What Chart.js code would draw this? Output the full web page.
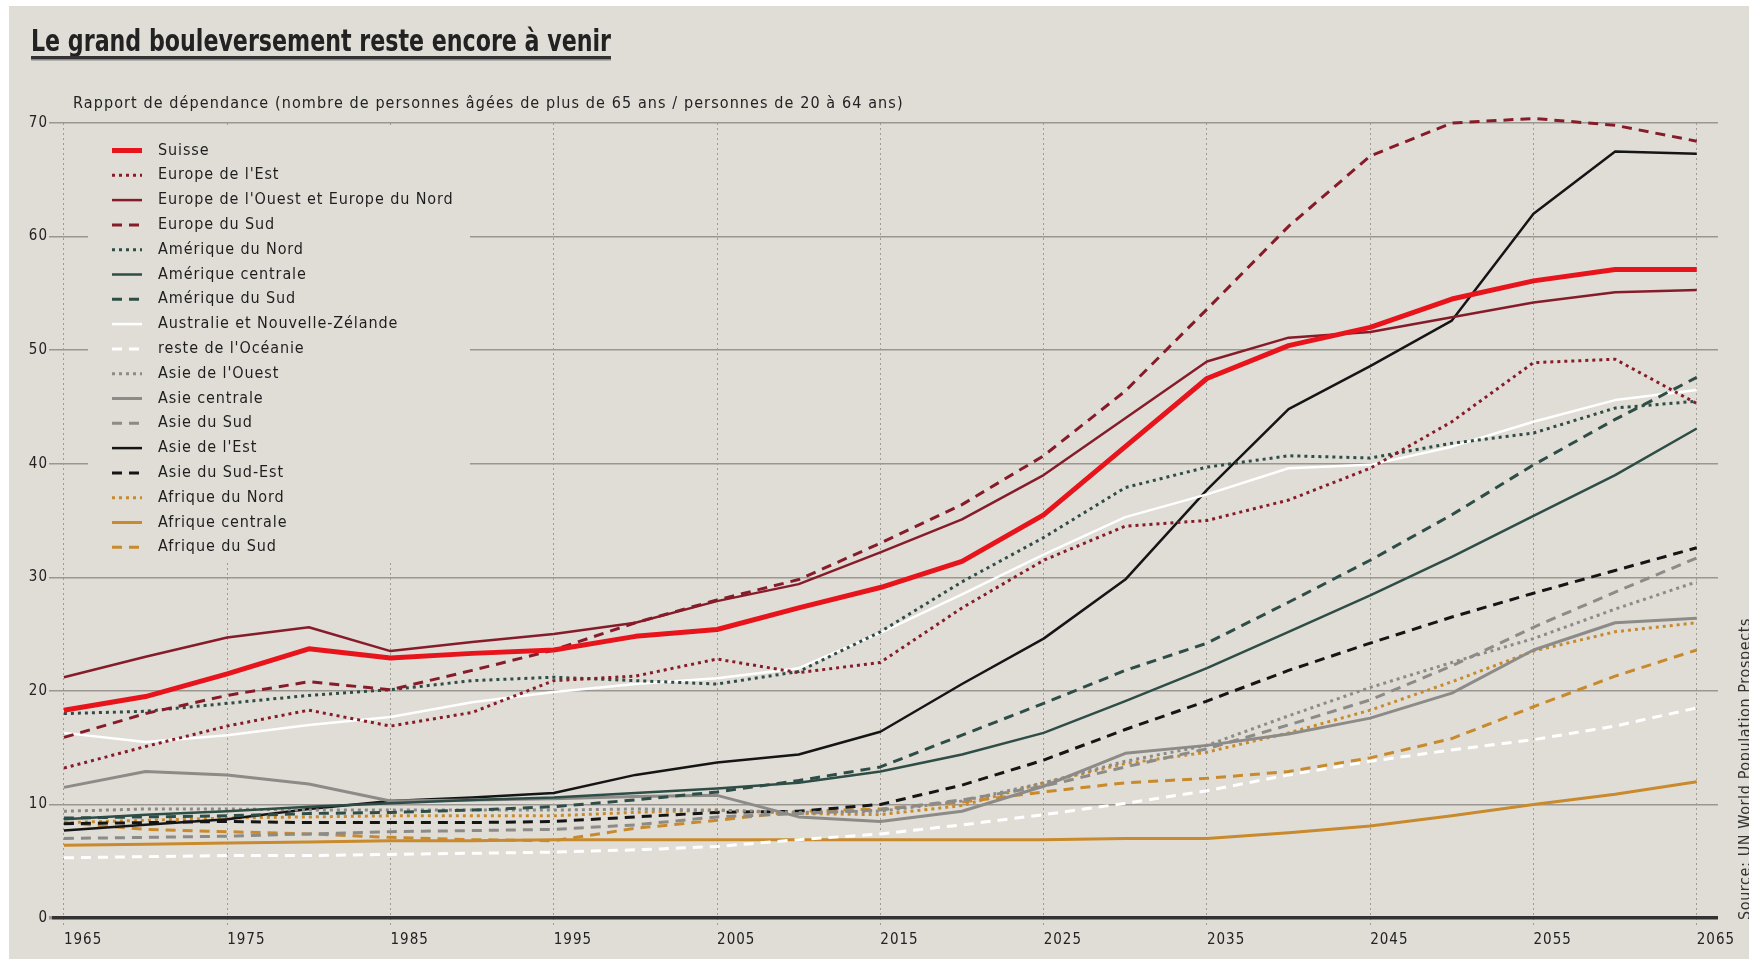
<!DOCTYPE html>
<html lang="fr">
<head>
<meta charset="UTF-8">
<title>Le grand bouleversement reste encore à venir</title>
<script src="https://cdn.jsdelivr.net/npm/chart.js@4.4.1/dist/chart.umd.min.js"></script>
<style>
  html, body { margin: 0; padding: 0; background: #fff; }
  #wrap { width: 1749px; height: 959px; }
</style>
</head>
<body>
<div id="wrap"><canvas id="chart"></canvas></div>
<script>
// years (one value every 5 years) and axis ticks
const years = [1965, 1970, 1975, 1980, 1985, 1990, 1995, 2000, 2005, 2010, 2015,
               2020, 2025, 2030, 2035, 2040, 2045, 2050, 2055, 2060, 2065];
const decades = [1965, 1975, 1985, 1995, 2005, 2015, 2025, 2035, 2045, 2055, 2065];
const yTicks = [0, 10, 20, 30, 40, 50, 60, 70];

// dependency ratio
const suisse        = [18.3, 19.5, 21.5, 23.7, 22.9, 23.3, 23.6, 24.8, 25.4, 27.3, 29.1, 31.4, 35.5, 41.5, 47.5, 50.4, 52.0, 54.5, 56.1, 57.1, 57.1];
const europeEst     = [13.2, 15.1, 16.9, 18.3, 16.9, 18.1, 20.9, 21.3, 22.8, 21.6, 22.5, 27.3, 31.5, 34.5, 35.0, 36.8, 39.6, 43.7, 48.9, 49.2, 45.3];
const europeOuest   = [21.2, 23.0, 24.7, 25.6, 23.5, 24.3, 25.0, 26.0, 27.9, 29.4, 32.2, 35.1, 39.0, 44.0, 49.0, 51.1, 51.6, 52.9, 54.2, 55.1, 55.3];
const europeSud     = [15.9, 18.0, 19.6, 20.8, 20.1, 21.8, 23.6, 26.0, 28.0, 29.8, 33.0, 36.4, 40.7, 46.4, 53.6, 60.9, 67.1, 70.0, 70.4, 69.8, 68.4];
const ameriqueNord  = [18.0, 18.2, 18.9, 19.6, 20.1, 20.9, 21.2, 20.9, 20.6, 21.7, 25.2, 29.6, 33.5, 37.9, 39.7, 40.7, 40.5, 41.8, 42.7, 44.9, 45.5];
const ameriqueCentr = [8.7, 9.1, 9.4, 9.8, 10.1, 10.4, 10.6, 11.0, 11.4, 11.9, 12.9, 14.4, 16.3, 19.1, 22.0, 25.2, 28.4, 31.8, 35.4, 39.0, 43.1];
const ameriqueSud   = [8.8, 8.9, 9.0, 9.2, 9.3, 9.5, 9.8, 10.4, 11.1, 12.1, 13.3, 16.1, 18.9, 21.8, 24.2, 27.8, 31.5, 35.5, 39.9, 43.9, 47.6];
const australie     = [16.3, 15.5, 16.1, 17.0, 17.7, 19.0, 19.9, 20.6, 21.1, 22.0, 25.1, 28.5, 32.0, 35.3, 37.3, 39.6, 39.9, 41.5, 43.7, 45.6, 46.5];
const resteOceanie  = [5.3, 5.4, 5.5, 5.5, 5.6, 5.7, 5.8, 6.0, 6.3, 6.9, 7.4, 8.2, 9.1, 10.1, 11.2, 12.6, 13.8, 14.8, 15.7, 16.9, 18.5];
const asieOuest     = [9.4, 9.6, 9.6, 9.5, 9.5, 9.5, 9.5, 9.6, 9.5, 9.3, 9.4, 10.3, 11.9, 13.8, 15.2, 17.8, 20.3, 22.5, 24.6, 27.2, 29.6];
const asieCentrale  = [11.5, 12.9, 12.6, 11.8, 10.3, 10.4, 10.5, 10.7, 10.8, 8.9, 8.5, 9.4, 11.6, 14.5, 15.2, 16.2, 17.6, 19.8, 23.6, 26.0, 26.4];
const asieSud       = [7.0, 7.1, 7.2, 7.4, 7.6, 7.7, 7.8, 8.2, 8.9, 9.2, 9.5, 10.4, 11.6, 13.3, 14.9, 17.0, 19.2, 22.2, 25.6, 28.7, 31.7];
const asieEst       = [7.7, 8.2, 8.7, 9.6, 10.3, 10.6, 11.0, 12.6, 13.7, 14.4, 16.4, 20.6, 24.6, 29.8, 37.7, 44.8, 48.6, 52.6, 62.0, 67.5, 67.3];
const asieSudEst    = [8.3, 8.4, 8.5, 8.4, 8.4, 8.4, 8.5, 8.9, 9.3, 9.4, 10.0, 11.7, 13.9, 16.6, 19.1, 21.8, 24.2, 26.5, 28.6, 30.6, 32.6];
const afriqueNord   = [8.4, 8.6, 8.8, 8.9, 9.0, 9.0, 9.0, 9.3, 9.5, 9.2, 9.1, 9.9, 11.9, 13.6, 14.6, 16.3, 18.3, 20.8, 23.5, 25.2, 26.0];
const afriqueCentr  = [6.4, 6.5, 6.6, 6.7, 6.8, 6.8, 6.9, 6.9, 6.9, 6.9, 6.9, 6.9, 6.9, 7.0, 7.0, 7.5, 8.1, 9.0, 10.0, 10.9, 12.0];
const afriqueSud    = [8.4, 7.8, 7.6, 7.4, 7.1, 6.9, 6.8, 7.9, 8.6, 9.4, 9.6, 10.2, 11.1, 11.9, 12.3, 12.9, 14.1, 15.8, 18.6, 21.3, 23.6];

const BG = '#e0ddd7';
const FONT = '"DejaVu Sans Condensed", "DejaVu Sans", sans-serif';

const RED = '#e8141c', WINE = '#861c2a', TEAL = '#2e4d47', WHITE = '#ffffff',
      GREY = '#8c8b88', BLACK = '#151515', OCHRE = '#c88a2c';
const DOT = [3, 4], DASH = [10, 7];

const series = [
    { label: 'Suisse', values: suisse, color: RED, width: 5, dash: [] },
    { label: "Europe de l'Est", values: europeEst, color: WINE, width: 3, dash: DOT },
    { label: "Europe de l'Ouest et Europe du Nord", values: europeOuest, color: WINE, width: 2.5, dash: [] },
    { label: 'Europe du Sud', values: europeSud, color: WINE, width: 3, dash: DASH },
    { label: 'Amérique du Nord', values: ameriqueNord, color: TEAL, width: 3, dash: DOT },
    { label: 'Amérique centrale', values: ameriqueCentr, color: TEAL, width: 2.5, dash: [] },
    { label: 'Amérique du Sud', values: ameriqueSud, color: TEAL, width: 3, dash: DASH },
    { label: 'Australie et Nouvelle-Zélande', values: australie, color: WHITE, width: 2.5, dash: [] },
    { label: "reste de l'Océanie", values: resteOceanie, color: WHITE, width: 3, dash: DASH },
    { label: "Asie de l'Ouest", values: asieOuest, color: GREY, width: 3, dash: DOT },
    { label: 'Asie centrale', values: asieCentrale, color: GREY, width: 3, dash: [] },
    { label: 'Asie du Sud', values: asieSud, color: GREY, width: 3, dash: DASH },
    { label: "Asie de l'Est", values: asieEst, color: BLACK, width: 2.5, dash: [] },
    { label: 'Asie du Sud-Est', values: asieSudEst, color: BLACK, width: 3, dash: DASH },
    { label: 'Afrique du Nord', values: afriqueNord, color: OCHRE, width: 3, dash: DOT },
    { label: 'Afrique centrale', values: afriqueCentr, color: OCHRE, width: 3, dash: [] },
    { label: 'Afrique du Sud', values: afriqueSud, color: OCHRE, width: 3, dash: DASH }
];

// page background (the white strip on the top and left is part of the picture)
const backdrop = {
    id: 'backdrop',
    beforeDraw(chart) {
        const ctx = chart.ctx;
        ctx.save();
        ctx.fillStyle = BG;
        ctx.fillRect(9, 6, chart.width - 9, chart.height - 6);
        ctx.restore();
        // the original lettering is a bit more spaced out
        ctx.letterSpacing = '1px';
    }
};

// legend sits inside the plot on its own patch of background
const legendBox = {
    id: 'legendBox',
    beforeDatasetsDraw(chart) {
        const ctx = chart.ctx;
        ctx.save();
        ctx.fillStyle = BG;
        ctx.fillRect(88, 128, 382, 434);
        ctx.letterSpacing = '0.9px';
        chart.data.datasets.forEach((ds, i) => {
            const y = 150.5 + i * 24.8;
            ctx.beginPath();
            ctx.setLineDash(ds.borderDash);
            ctx.lineWidth = ds.borderWidth;
            ctx.strokeStyle = ds.borderColor;
            ctx.moveTo(112, y);
            ctx.lineTo(142, y);
            ctx.stroke();
            ctx.setLineDash([]);
            ctx.fillStyle = '#1e1e1e';
            ctx.font = '16px ' + FONT;
            ctx.textBaseline = 'middle';
            ctx.fillText(ds.label, 158, y);
        });
        ctx.restore();
    }
};

// title, subtitle, source
const texts = {
    id: 'texts',
    afterDraw(chart) {
        const ctx = chart.ctx;
        ctx.save();
        ctx.letterSpacing = '0px';
        ctx.fillStyle = '#222';
        ctx.font = 'bold 31px ' + FONT;
        ctx.textBaseline = 'alphabetic';
        const title = 'Le grand bouleversement reste encore à venir';
        const w = ctx.measureText(title).width;
        const titleW = 580;
        ctx.save();
        ctx.translate(31, 51);
        ctx.scale(titleW / w, 1);
        ctx.fillText(title, 0, 0);
        ctx.restore();
        ctx.fillStyle = '#333';
        ctx.fillRect(31, 56, titleW, 3);
        ctx.fillStyle = '#888';
        ctx.fillRect(31, 59, titleW, 1.5);

        ctx.fillStyle = '#222';
        ctx.font = '16px ' + FONT;
        ctx.letterSpacing = '1.1px';
        ctx.fillText('Rapport de dépendance (nombre de personnes âgées de plus de 65 ans / personnes de 20 à 64 ans)', 73, 108);

        ctx.translate(1750, 920);
        ctx.rotate(-Math.PI / 2);
        ctx.font = '16px ' + FONT;
        ctx.letterSpacing = '0.6px';
        ctx.fillStyle = '#333';
        ctx.textBaseline = 'alphabetic';
        ctx.fillText('Source: UN World Population Prospects', 0, 0);
        ctx.restore();
    }
};

const ctx = document.getElementById('chart').getContext('2d');
const myChart = new Chart(ctx, {
    type: 'line',
    data: {
        datasets: series.map(s => ({
            label: s.label,
            data: years.map((yr, i) => ({ x: yr, y: s.values[i] })),
            borderColor: s.color,
            backgroundColor: s.color,
            borderWidth: s.width,
            borderDash: s.dash,
            borderCapStyle: 'butt',
            borderJoinStyle: 'round',
            pointRadius: 0,
            tension: 0,
            fill: false,
            clip: false
        }))
    },
    plugins: [backdrop, legendBox, texts],
    options: {
        responsive: true,
        maintainAspectRatio: false,
        animation: false,
        events: [],
        layout: { padding: { top: 123, right: 31, bottom: 0, left: 0 } },
        plugins: {
            legend: { display: false },
            tooltip: { enabled: false }
        },
        scales: {
            x: {
                type: 'linear',
                min: 1964.27,
                max: 2066.3,
                afterBuildTicks: scale => { scale.ticks = decades.map(v => ({ value: v })); },
                afterFit: scale => { scale.height = 41; },
                grid: {
                    color: '#9e9b96',
                    lineWidth: 1,
                    tickLength: 8,
                    tickColor: '#9e9b96',
                    tickBorderDash: [2, 3]
                },
                border: { display: false, dash: [2, 3] },
                ticks: {
                    align: 'start',
                    padding: 5,
                    color: '#222',
                    font: { family: FONT, size: 15 },
                    callback: v => String(v)
                }
            },
            y: {
                min: 0,
                max: 70,
                afterBuildTicks: scale => { scale.ticks = yTicks.map(v => ({ value: v })); },
                afterFit: scale => { scale.width = 52; },
                grid: {
                    color: c => c.tick && c.tick.value === 0 ? '#333333' : '#9a9792',
                    lineWidth: c => c.tick && c.tick.value === 0 ? 3.5 : 1.5,
                    tickLength: 3,
                    tickColor: '#9a9792'
                },
                border: { display: false },
                ticks: {
                    padding: 1,
                    color: '#222',
                    font: { family: FONT, size: 15 }
                }
            }
        }
    }
});
</script>
</body>
</html>
